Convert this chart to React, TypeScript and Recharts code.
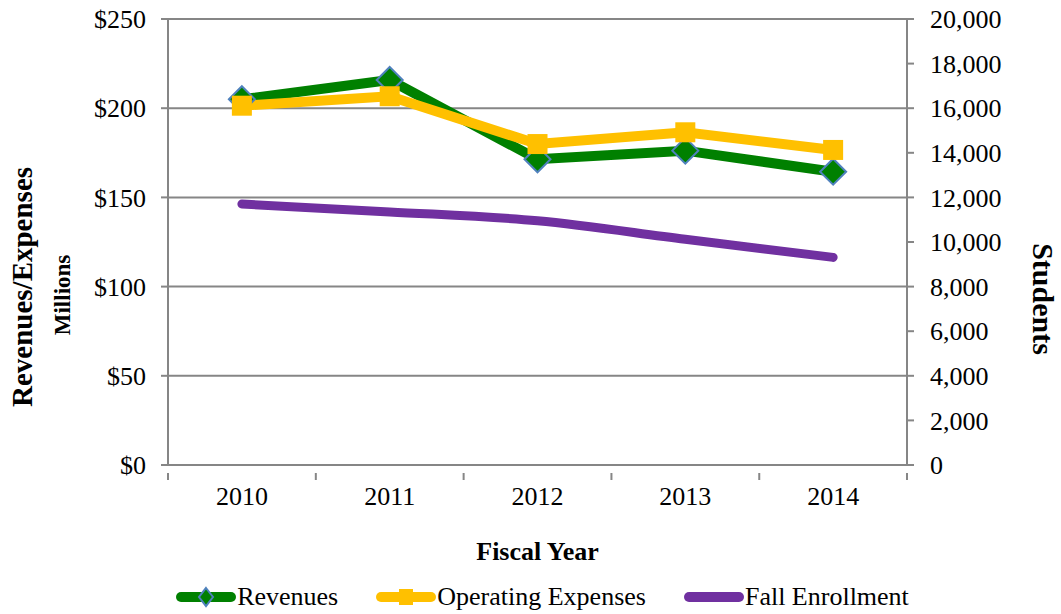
import { CartesianGrid, Label, Legend, Line, LineChart, XAxis, YAxis } from "recharts";

const years = ["2010", "2011", "2012", "2013", "2014"];
const revenues = [205.0, 215.8, 171.4, 176.2, 164.4];
const operatingExpenses = [201.4, 206.7, 179.9, 186.5, 176.6];
const fallEnrollment = [11700, 11350, 10950, 10120, 9310];
const dollarTicks = [0, 50, 100, 150, 200, 250];
const studentTicks = [0, 2000, 4000, 6000, 8000, 10000, 12000, 14000, 16000, 18000, 20000];

const data = years.map((year, i) => ({
  year,
  revenues: revenues[i],
  expenses: operatingExpenses[i],
  enrollment: fallEnrollment[i],
}));

const FONT = "'Liberation Serif', 'Times New Roman', serif";
const AXIS = "#868686";
const GREEN = "#008000";
const GOLD = "#FFC000";
const PURPLE = "#7030A0";
const BLUE = "#4F81BD";
const W = 1061;
const H = 614;
const STEP = 147.75;

const Diamond = (props: any) => {
  const { cx, cy } = props;
  if (cx == null || cy == null) return null;
  const r = 13;
  return (
    <polygon
      points={`${cx},${cy - r} ${cx + r},${cy} ${cx},${cy + r} ${cx - r},${cy}`}
      fill={GREEN}
      stroke={BLUE}
      strokeWidth={2}
    />
  );
};

const Square = (props: any) => {
  const { cx, cy } = props;
  if (cx == null || cy == null) return null;
  return <rect x={cx - 10} y={cy - 10} width={20} height={20} fill={GOLD} />;
};

const YearTick = (props: any) => {
  const { x, y, payload, index } = props;
  const half = STEP / 2;
  return (
    <g>
      <line x1={x - half} x2={x - half} y1={y} y2={y + 7} stroke={AXIS} strokeWidth={2} />
      {index === years.length - 1 && (
        <line x1={x + half} x2={x + half} y1={y} y2={y + 7} stroke={AXIS} strokeWidth={2} />
      )}
      <text x={x} y={y + 32} textAnchor="middle" fontFamily={FONT} fontSize={26} fill="#000">
        {payload.value}
      </text>
    </g>
  );
};

const legendItems = [
  { name: "Revenues", color: GREEN, marker: "diamond" },
  { name: "Operating Expenses", color: GOLD, marker: "square" },
  { name: "Fall Enrollment", color: PURPLE, marker: "none" },
];

const LegendContent = () => (
  <div
    style={{
      display: "flex",
      justifyContent: "center",
      alignItems: "center",
      height: 40,
      marginLeft: 60,
      paddingTop: 5,
      boxSizing: "border-box",
    }}
  >
    {legendItems.map((it) => (
      <div key={it.name} style={{ display: "flex", alignItems: "center", marginRight: 37 }}>
        <svg width={62} height={24}>
          <line x1={6} x2={56} y1={12} y2={12} stroke={it.color} strokeWidth={10} strokeLinecap="round" />
          {it.marker === "diamond" && (
            <polygon points="31,3 38,12 31,21 24,12" fill={GREEN} stroke={BLUE} strokeWidth={2} />
          )}
          {it.marker === "square" && <rect x={24} y={4} width={14} height={16} fill={GOLD} />}
        </svg>
        <span style={{ fontFamily: FONT, fontSize: 26, color: "#000", lineHeight: "26px" }}>{it.name}</span>
      </div>
    ))}
  </div>
);

export default function App() {
  return (
    <div style={{ position: "absolute", left: 0, top: 0, width: W, height: H, background: "#fff" }}>
      <LineChart width={W} height={H} data={data} margin={{ top: 19, right: 0, left: 0, bottom: 0 }}>
        <CartesianGrid yAxisId="left" vertical={false} stroke={AXIS} strokeWidth={2} />
        <XAxis
          dataKey="year"
          height={109}
          padding={{ left: STEP / 2, right: STEP / 2 }}
          axisLine={{ stroke: AXIS, strokeWidth: 2 }}
          tickLine={false}
          tick={<YearTick />}
          interval={0}
        >
          <Label
            content={(p: any) => {
              const vb = p.viewBox;
              return (
                <text
                  x={vb.x + vb.width / 2}
                  y={vb.y + 95}
                  textAnchor="middle"
                  fontFamily={FONT}
                  fontWeight="bold"
                  fontSize={26}
                  fill="#000"
                >
                  Fiscal Year
                </text>
              );
            }}
          />
        </XAxis>
        <YAxis
          yAxisId="left"
          width={168}
          domain={[0, 250]}
          ticks={dollarTicks}
          interval={0}
          tickFormatter={(v) => `$${v}`}
          tick={{ fontFamily: FONT, fontSize: 26, fill: "#000" }}
          tickSize={7}
          tickMargin={15}
          axisLine={{ stroke: AXIS, strokeWidth: 2 }}
          tickLine={{ stroke: AXIS, strokeWidth: 2 }}
        >
          <Label
            content={(p: any) => {
              const vb = p.viewBox;
              const cy = vb.y + vb.height / 2 + 45;
              return (
                <g>
                  <text
                    transform={`translate(32, ${cy}) rotate(-90)`}
                    textAnchor="middle"
                    fontFamily={FONT}
                    fontWeight="bold"
                    fontSize={29}
                    fill="#000"
                  >
                    Revenues/Expenses
                  </text>
                  <text
                    transform={`translate(70, ${cy + 8}) rotate(-90)`}
                    textAnchor="middle"
                    fontFamily={FONT}
                    fontWeight="bold"
                    fontSize={23}
                    fill="#000"
                  >
                    Millions
                  </text>
                </g>
              );
            }}
          />
        </YAxis>
        <YAxis
          yAxisId="right"
          orientation="right"
          width={154}
          domain={[0, 20000]}
          ticks={studentTicks}
          interval={0}
          tickFormatter={(v) => Number(v).toLocaleString("en-US")}
          tick={{ fontFamily: FONT, fontSize: 26, fill: "#000" }}
          tickSize={7}
          tickMargin={16}
          axisLine={{ stroke: AXIS, strokeWidth: 2 }}
          tickLine={{ stroke: AXIS, strokeWidth: 2 }}
        >
          <Label
            content={(p: any) => {
              const vb = p.viewBox;
              const cy = vb.y + vb.height / 2 + 57;
              return (
                <text
                  transform={`translate(1033, ${cy}) rotate(90)`}
                  textAnchor="middle"
                  fontFamily={FONT}
                  fontWeight="bold"
                  fontSize={30}
                  fill="#000"
                >
                  Students
                </text>
              );
            }}
          />
        </YAxis>
        <Legend verticalAlign="bottom" content={<LegendContent />} wrapperStyle={{ height: 40 }} />
        <Line
          yAxisId="left"
          dataKey="revenues"
          name="Revenues"
          type="linear"
          stroke={GREEN}
          strokeWidth={10}
          dot={<Diamond />}
          activeDot={false}
          isAnimationActive={false}
        />
        <Line
          yAxisId="left"
          dataKey="expenses"
          name="Operating Expenses"
          type="linear"
          stroke={GOLD}
          strokeWidth={10}
          dot={<Square />}
          activeDot={false}
          isAnimationActive={false}
        />
        <Line
          yAxisId="right"
          dataKey="enrollment"
          name="Fall Enrollment"
          type="monotone"
          stroke={PURPLE}
          strokeWidth={9}
          strokeLinecap="round"
          dot={false}
          activeDot={false}
          isAnimationActive={false}
        />
      </LineChart>
    </div>
  );
}
